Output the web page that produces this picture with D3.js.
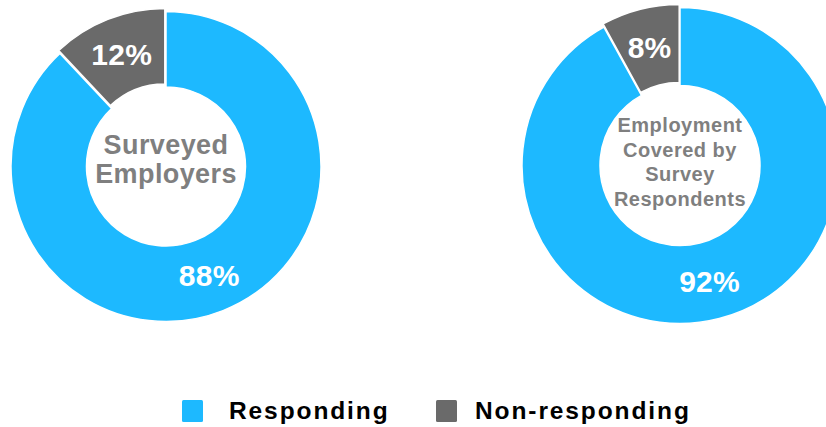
<!DOCTYPE html>
<html>
<head>
<meta charset="utf-8">
<script src="https://cdn.jsdelivr.net/npm/d3@7"></script>
<style>
  html, body { margin: 0; padding: 0; background: #fff; }
  svg { display: block; font-family: "Liberation Sans", Arial, Helvetica, sans-serif; font-weight: bold; }
</style>
</head>
<body>
<svg id="chart" width="826" height="427"></svg>
<script>
// ---- data ----
const categories = ["Responding", "Non-responding"];
const colors = ["#1DB9FF", "#6A6A6A"];
const surveyedEmployers = [88, 12];
const employmentCovered = [92, 8];
const centerTitles = [
  ["Surveyed", "Employers"],
  ["Employment", "Covered by", "Survey", "Respondents"]
];

// ---- layout ----
const svg = d3.select("#chart");
const donuts = [
  { values: surveyedEmployers, title: centerTitles[0], cx: 166, cy: 166.5, R: 155, r: 79.5,
    titleSize: 27, titleLs: 0.4, lineH: 29, titleY: 153.5 - 166.5 },
  { values: employmentCovered, title: centerTitles[1], cx: 680, cy: 165.5, R: 158, r: 80,
    titleSize: 20, titleLs: 0.5, lineH: 24.5, titleY: 132 - 165.5 }
];

const pie = d3.pie().sort(null).value(d => d);

donuts.forEach(dn => {
  const g = svg.append("g").attr("transform", `translate(${dn.cx},${dn.cy})`);
  const arc = d3.arc().innerRadius(dn.r).outerRadius(dn.R);
  const labelArc = d3.arc().innerRadius((dn.r + dn.R) / 2).outerRadius((dn.r + dn.R) / 2);
  const arcs = pie(dn.values);
  const explode = [0, 3.2];

  const slice = g.selectAll("g.slice").data(arcs).enter().append("g")
    .attr("class", "slice")
    .attr("transform", (d, i) => {
      const a = (d.startAngle + d.endAngle) / 2;
      return `translate(${Math.sin(a) * explode[i]},${-Math.cos(a) * explode[i]})`;
    });

  slice.append("path")
    .attr("d", arc)
    .attr("fill", (d, i) => colors[i])
    .attr("stroke", "#fff")
    .attr("stroke-width", 1.5);

  slice.append("text")
    .attr("transform", d => `translate(${labelArc.centroid(d)})`)
    .attr("text-anchor", "middle")
    .attr("dy", "0.36em")
    .attr("fill", "#fff")
    .attr("font-size", 30)
    .attr("letter-spacing", 0.3)
    .text(d => d.value + "%");

  g.append("g").selectAll("text").data(dn.title).enter().append("text")
    .attr("x", 0)
    .attr("y", (d, i) => dn.titleY + i * dn.lineH)
    .attr("text-anchor", "middle")
    .attr("fill", "#7F7F7F")
    .attr("font-size", dn.titleSize)
    .attr("letter-spacing", dn.titleLs)
    .text(d => d);
});

// ---- legend ----
const legendX = [182, 436];
const legendTextDx = [47, 39];
const legend = svg.append("g");
const item = legend.selectAll("g").data(categories).enter().append("g")
  .attr("transform", (d, i) => `translate(${legendX[i]},400)`);
item.append("rect")
  .attr("width", 21).attr("height", 22).attr("rx", 1.5)
  .attr("fill", (d, i) => colors[i]);
item.append("text")
  .attr("x", (d, i) => legendTextDx[i])
  .attr("y", 19)
  .attr("font-size", 24.5)
  .attr("letter-spacing", 1.9)
  .attr("fill", "#000")
  .text(d => d);
</script>
</body>
</html>
